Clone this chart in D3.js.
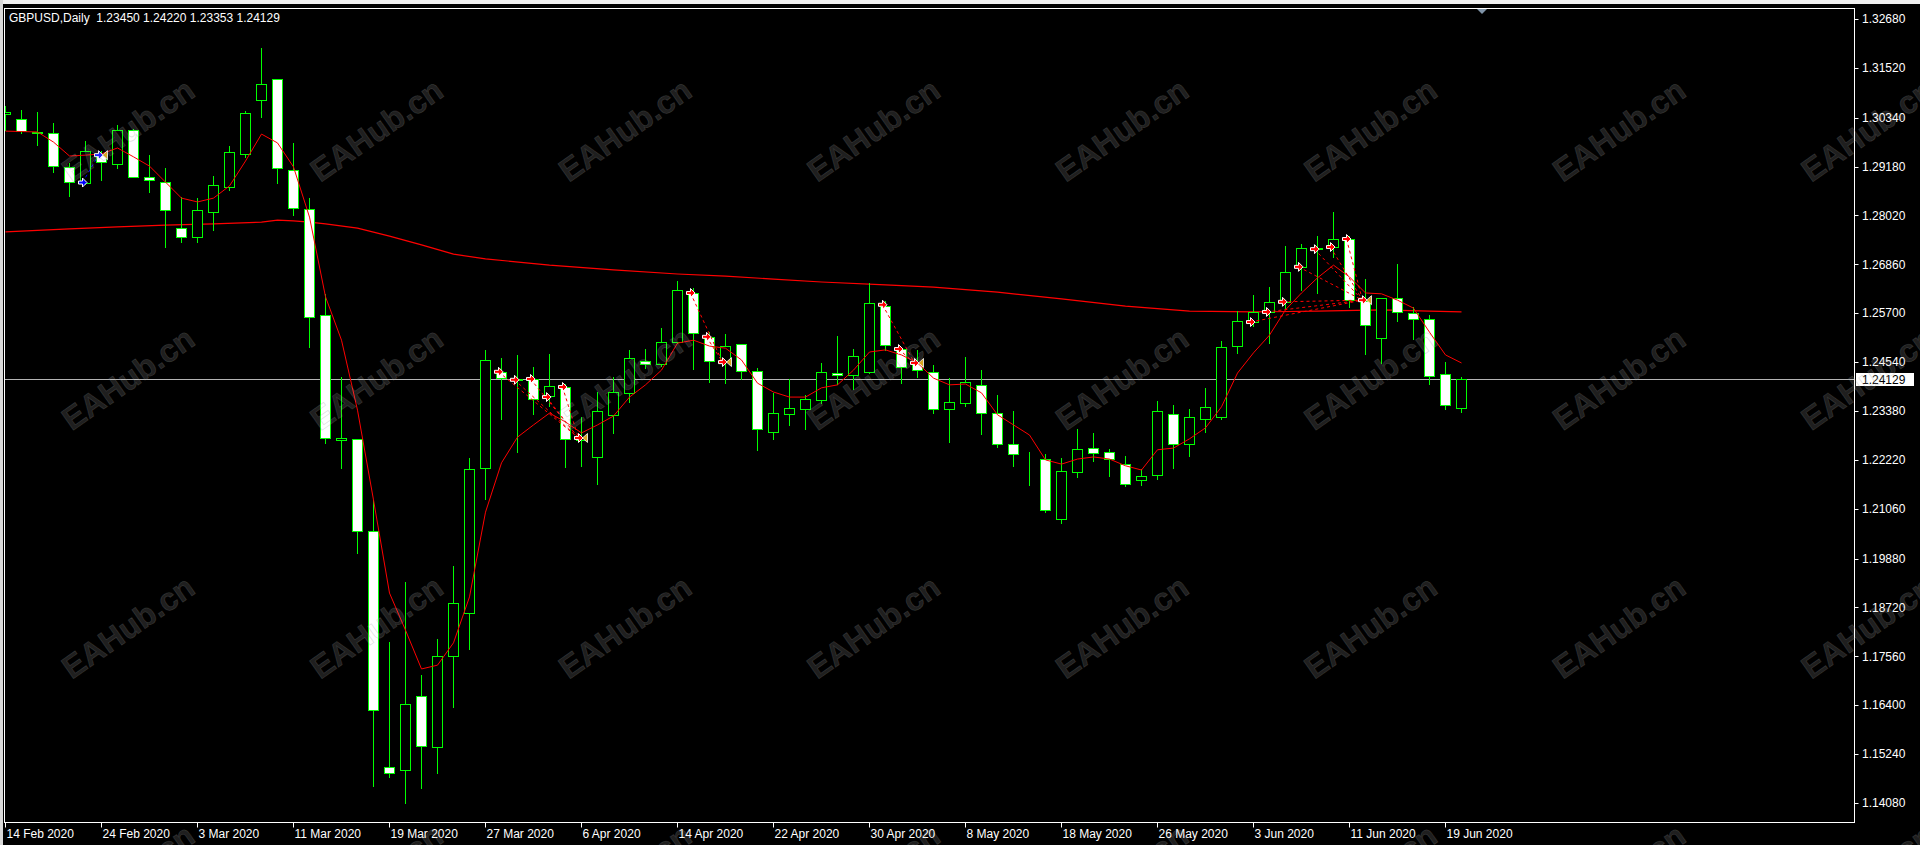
<!DOCTYPE html>
<html>
<head>
<meta charset="utf-8">
<script src="https://cdnjs.cloudflare.com/ajax/libs/d3/7.8.5/d3.min.js"></script>
<style>
  html, body { margin: 0; padding: 0; background: #000; overflow: hidden; }
  svg { display: block; font-family: "Liberation Sans", Arial, sans-serif; }
</style>
</head>
<body>
<svg id="chart" width="1920" height="845"></svg>
<script>
// GBPUSD daily bars, 14 Feb 2020 .. 22 Jun 2020
const opens = [1.3043,1.3031,1.3000,1.2998,1.2917,1.2879,1.2945,1.2924,1.3005,1.2893,
  1.2881,1.2772,1.2751,1.2810,1.2869,1.2948,1.3076,1.3126,1.2910,1.2817,
  1.2566,1.2269,1.2272,1.2053,1.1493,1.1486,1.1662,1.1541,1.1757,1.1859,
  1.2203,1.2431,1.2413,1.2414,1.2374,1.2395,1.2270,1.2229,1.2329,1.2381,
  1.2457,1.2450,1.2502,1.2618,1.2514,1.2457,1.2497,1.2433,1.2288,1.2331,
  1.2343,1.2364,1.2428,1.2423,1.2431,1.2587,1.2485,1.2452,1.2431,1.2343,
  1.2357,1.2400,1.2333,1.2260,1.2230,1.2224,1.2082,1.2193,1.2250,1.2241,
  1.2212,1.2174,1.2186,1.2331,1.2260,1.2319,1.2324,1.2492,1.2549,1.2573,
  1.2597,1.2680,1.2722,1.2727,1.2746,1.2599,1.2511,1.2606,1.2570,1.2556,
  1.2426,1.23450];
const highs = [1.3064,1.3054,1.3050,1.3024,1.2929,1.2981,1.2957,1.3019,1.3009,1.2948,
  1.2917,1.2848,1.2846,1.2898,1.2969,1.3052,1.3202,1.3128,1.2976,1.2846,
  1.2618,1.2421,1.2274,1.2129,1.1792,1.1935,1.1714,1.1799,1.1973,1.2229,
  1.2485,1.2466,1.2473,1.2445,1.2476,1.2404,1.2326,1.2385,1.2421,1.2485,
  1.2487,1.2537,1.2649,1.2632,1.2528,1.2523,1.2499,1.2442,1.2383,1.2416,
  1.2378,1.2454,1.2518,1.2487,1.2644,1.2601,1.2487,1.2485,1.2450,1.2419,
  1.2468,1.2438,1.2378,1.2340,1.2243,1.2238,1.2229,1.2298,1.2288,1.2250,
  1.2234,1.2203,1.2364,1.2355,1.2345,1.2395,1.2506,1.2578,1.2616,1.2635,
  1.2732,1.2737,1.2756,1.2812,1.2756,1.2654,1.2606,1.2689,1.2587,1.2568,
  1.2457,1.24220];
const lows = [1.3005,1.2998,1.2969,1.2905,1.2848,1.2877,1.2886,1.2914,1.2893,1.2858,
  1.2727,1.2739,1.2739,1.2767,1.2862,1.2941,1.3036,1.2879,1.2803,1.2490,
  1.2262,1.2203,1.2001,1.1448,1.1470,1.1408,1.1444,1.1479,1.1636,1.1773,
  1.2129,1.2319,1.2241,1.2331,1.2350,1.2205,1.2208,1.2165,1.2286,1.2359,
  1.2440,1.2445,1.2499,1.2438,1.2407,1.2404,1.2414,1.2245,1.2272,1.2305,
  1.2295,1.2357,1.2402,1.2390,1.2428,1.2483,1.2404,1.2419,1.2333,1.2264,
  1.2350,1.2283,1.2253,1.2208,1.2162,1.2098,1.2072,1.2181,1.2219,1.2184,
  1.2160,1.2162,1.2177,1.2203,1.2231,1.2288,1.2320,1.2476,1.2540,1.2499,
  1.2582,1.2625,1.2618,1.2703,1.2585,1.2473,1.2452,1.2552,1.2509,1.2402,
  1.2343,1.23353];
const closes = [1.3047,1.3002,1.2997,1.2919,1.2881,1.2955,1.2929,1.3005,1.2893,1.2886,
  1.2815,1.2751,1.2815,1.2874,1.2952,1.3045,1.3114,1.2914,1.2820,1.2561,
  1.2274,1.2274,1.2053,1.1629,1.1479,1.1643,1.1543,1.1757,1.1882,1.2200,
  1.2459,1.2416,1.2412,1.2366,1.2397,1.2272,1.2274,1.2338,1.2383,1.2464,
  1.2450,1.2502,1.2625,1.2523,1.2457,1.2492,1.2433,1.2295,1.2333,1.2345,
  1.2366,1.2431,1.2423,1.2468,1.2594,1.2495,1.2442,1.2435,1.2343,1.2359,
  1.2407,1.2333,1.2260,1.2236,1.2230,1.2103,1.2196,1.2248,1.2238,1.2224,
  1.2165,1.2184,1.2338,1.2260,1.2324,1.2348,1.2490,1.2552,1.2573,1.2597,
  1.2668,1.2725,1.2725,1.2746,1.2601,1.2542,1.2606,1.2573,1.2556,1.2421,
  1.2352,1.24129];

// fast moving average, one value per bar
const fastMA = [1.3002,1.3001,1.3000,1.2976,1.2943,1.2945,1.2948,1.2962,1.2941,1.2919,
  1.2881,1.2843,1.2834,1.2843,1.2872,1.2931,1.2995,1.2974,1.2917,1.2798,
  1.2609,1.2506,1.2340,1.2127,1.1906,1.1818,1.1726,1.1735,1.1788,1.1897,
  1.2098,1.2215,1.2276,1.2305,1.2333,1.2312,1.2286,1.2305,1.2326,1.2371,
  1.2400,1.2435,1.2499,1.2506,1.2492,1.2487,1.2459,1.2404,1.2383,1.2371,
  1.2371,1.2393,1.2400,1.2435,1.2478,1.2483,1.2471,1.2452,1.2416,1.2400,
  1.2402,1.2381,1.2329,1.2305,1.2281,1.2222,1.2212,1.2224,1.2229,1.2224,
  1.2208,1.2198,1.2246,1.2250,1.2272,1.2298,1.2348,1.2428,1.2476,1.2518,
  1.2578,1.2618,1.2654,1.2684,1.2656,1.2618,1.2616,1.2601,1.2582,1.2525,
  1.2471,1.2452];

// slow moving average, read at some bars
const slowBars = [0,4,7,10,13,16,17,18,19,20,22,24,26,28,30,34,38,42,45,48,51,55,58,62,66,70,74,78,82,86,89,91];
const slowMA = [1.2763,1.2770,1.2775,1.2779,1.2782,1.2786,1.2791,1.2789,1.2786,1.2782,1.2772,1.2753,1.2732,1.2710,1.2699,1.2684,
  1.2673,1.2663,1.2658,1.2651,1.2644,1.2637,1.2632,1.2620,1.2604,1.2587,1.2575,1.2573,1.2575,1.2578,1.2575,1.2573];

// trade history arrows
const tradeOpenBar   = [5, 31,32,33,34,35, 43,44, 55,56, 78,79,80,81,82,83,84];
const tradeOpenPrice = [1.2880, 1.2431,1.2412,1.2414,1.2371,1.2395, 1.2618,1.2514, 1.2590,1.2485,
  1.2549,1.2573,1.2597,1.2680,1.2722,1.2727,1.2746];
const tradeCloseBar   = [6, 36,36,36,36,36, 45,45, 57,57, 85,85,85,85,85,85,85];
const tradeClosePrice = [1.2945, 1.2274,1.2274,1.2274,1.2274,1.2274, 1.2454,1.2454, 1.2452,1.2452,
  1.2601,1.2601,1.2601,1.2601,1.2601,1.2601,1.2601];
const tradeSide = ["buy","sell","sell","sell","sell","sell","sell","sell","sell","sell",
  "sell","sell","sell","sell","sell","sell","sell"];

const yTicks = [1.3268,1.3152,1.3034,1.2918,1.2802,1.2686,1.2570,1.2454,1.2338,
  1.2222,1.2106,1.1988,1.1872,1.1756,1.1640,1.1524,1.1408];
const xLabels = ["14 Feb 2020","24 Feb 2020","3 Mar 2020","11 Mar 2020","19 Mar 2020","27 Mar 2020",
  "6 Apr 2020","14 Apr 2020","22 Apr 2020","30 Apr 2020","8 May 2020","18 May 2020",
  "26 May 2020","3 Jun 2020","11 Jun 2020","19 Jun 2020"];
const labelStep = 6;
const currentPrice = 1.24129;
const title = "GBPUSD,Daily  1.23450 1.24220 1.23353 1.24129";

// layout
const W = 1920, H = 845;
const plot = { left: 4.5, top: 8.5, right: 1854.5, bottom: 822.5 };

const svg = d3.select("#chart");

const x = d3.scaleLinear().domain([0, opens.length - 1]).range([5.5, 5.5 + 16 * (opens.length - 1)]);
const y = d3.scaleLinear().domain([1.1408, 1.3268]).range([803, 19]);
const py = v => Math.round(y(v)) + 0.5;

// window chrome
svg.append("rect").attr("width", W).attr("height", H).attr("fill", "#000");
svg.append("rect").attr("x", 0).attr("y", 0).attr("width", W).attr("height", 4).attr("fill", "#f0f0f0");
svg.append("rect").attr("x", 0).attr("y", 0).attr("width", 3).attr("height", H).attr("fill", "#d8d8d8");

svg.append("defs").append("clipPath").attr("id", "plotClip")
  .append("rect")
  .attr("x", plot.left + 0.5).attr("y", plot.top + 0.5)
  .attr("width", plot.right - plot.left - 1).attr("height", plot.bottom - plot.top - 1);

const g = svg.append("g").attr("clip-path", "url(#plotClip)");

// slow MA
g.append("path")
  .datum(slowBars.map((b, i) => [b, slowMA[i]]))
  .attr("fill", "none").attr("stroke", "#ff0000").attr("stroke-width", 1.2)
  .attr("d", d3.line().x(d => x(d[0])).y(d => y(d[1])));

// current price line
g.append("line")
  .attr("x1", plot.left).attr("x2", plot.right)
  .attr("y1", py(currentPrice)).attr("y2", py(currentPrice))
  .attr("stroke", "#b4b4b4").attr("stroke-width", 1);

// candles
const bars = d3.range(opens.length);
const candle = g.selectAll("g.candle").data(bars).enter().append("g").attr("class", "candle");

candle.append("line")
  .attr("x1", i => x(i)).attr("x2", i => x(i))
  .attr("y1", i => py(highs[i])).attr("y2", i => py(lows[i]))
  .attr("stroke", "#00ff00").attr("stroke-width", 1)
  .attr("shape-rendering", "crispEdges");

candle.append("rect")
  .attr("x", i => x(i) - 5)
  .attr("y", i => py(Math.max(opens[i], closes[i])))
  .attr("width", 10)
  .attr("height", i => Math.max(0, py(Math.min(opens[i], closes[i])) - py(Math.max(opens[i], closes[i]))))
  .attr("fill", i => closes[i] >= opens[i] ? "#000" : "#fff")
  .attr("stroke", "#00ff00").attr("stroke-width", 1)
  .attr("shape-rendering", "crispEdges");

// fast MA
g.append("path")
  .datum(fastMA)
  .attr("fill", "none").attr("stroke", "#ff0000").attr("stroke-width", 1)
  .attr("d", d3.line().x((d, i) => x(i)).y(d => y(d)));

// trade lines and arrows
const trades = d3.range(tradeOpenBar.length);
const tradeColor = i => tradeSide[i] === "buy" ? "#0000ff" : "#ff0000";

g.selectAll("line.trade").data(trades).enter().append("line")
  .attr("class", "trade")
  .attr("x1", i => x(tradeOpenBar[i]) - 3).attr("y1", i => y(tradeOpenPrice[i]))
  .attr("x2", i => x(tradeCloseBar[i]) - 3).attr("y2", i => y(tradeClosePrice[i]))
  .attr("stroke", tradeColor).attr("stroke-width", 1).attr("stroke-dasharray", "3,3");

const arrowPath = "M-4,-1.5L0,-1.5L0,-4.5L4.5,0L0,4.5L0,1.5L-4,1.5Z";
g.selectAll("path.openArrow").data(trades).enter().append("path")
  .attr("class", "openArrow")
  .attr("d", arrowPath)
  .attr("transform", i => `translate(${x(tradeOpenBar[i]) - 3},${y(tradeOpenPrice[i])})`)
  .attr("fill", tradeColor).attr("stroke", "#fff").attr("stroke-width", 1);

// close markers (one per distinct close)
const closeKeys = Array.from(new Set(trades.map(i => tradeCloseBar[i] + "|" + tradeClosePrice[i] + "|" + tradeSide[i])));
const closes2 = closeKeys.map(k => k.split("|"));
g.selectAll("path.closeArrow").data(closes2).enter().append("path")
  .attr("d", arrowPath)
  .attr("transform", d => `translate(${x(+d[0]) - 3},${y(+d[1])})`)
  .attr("fill", d => d[2] === "buy" ? "#0000ff" : "#ff0000").attr("stroke", "#fff").attr("stroke-width", 1);
g.selectAll("path.closeTri").data(closes2).enter().append("path")
  .attr("d", "M5,-4.5L0,0L5,4.5Z")
  .attr("transform", d => `translate(${x(+d[0]) + 1},${y(+d[1])})`)
  .attr("fill", "#daa520").attr("stroke", "#fff").attr("stroke-width", 0.8);

// frame
svg.append("rect")
  .attr("x", plot.left).attr("y", plot.top)
  .attr("width", plot.right - plot.left).attr("height", plot.bottom - plot.top)
  .attr("fill", "none").attr("stroke", "#fff").attr("stroke-width", 1);

// chart shift marker
svg.append("path").attr("d", "M1477,9L1487,9L1482,14Z").attr("fill", "#8094a8");

// title
svg.append("text")
  .attr("x", 9).attr("y", 22)
  .attr("fill", "#fff").attr("font-size", 12)
  .attr("xml:space", "preserve")
  .style("white-space", "pre")
  .text(title);

// price axis
const yAxis = svg.append("g");
yAxis.selectAll("line").data(yTicks).enter().append("line")
  .attr("x1", plot.right).attr("x2", plot.right + 4)
  .attr("y1", d => py(d)).attr("y2", d => py(d))
  .attr("stroke", "#fff");
yAxis.selectAll("text").data(yTicks).enter().append("text")
  .attr("x", 1862).attr("y", d => y(d)).attr("dy", "0.35em")
  .attr("fill", "#fff").attr("font-size", 12)
  .text(d => d.toFixed(5));

// current price tag
svg.append("rect")
  .attr("x", 1856).attr("y", Math.round(y(currentPrice)) - 6)
  .attr("width", 58).attr("height", 13).attr("fill", "#fff");
svg.append("text")
  .attr("x", 1862).attr("y", y(currentPrice)).attr("dy", "0.35em")
  .attr("fill", "#000").attr("font-size", 12)
  .text(currentPrice.toFixed(5));

// date axis
const xAxis = svg.append("g");
xAxis.selectAll("line").data(xLabels).enter().append("line")
  .attr("x1", (d, i) => x(i * labelStep)).attr("x2", (d, i) => x(i * labelStep))
  .attr("y1", plot.bottom).attr("y2", plot.bottom + 5)
  .attr("stroke", "#fff");
xAxis.selectAll("text").data(xLabels).enter().append("text")
  .attr("x", (d, i) => x(i * labelStep) + 1).attr("y", 838)
  .attr("fill", "#fff").attr("font-size", 12)
  .text(d => d);

// watermark grid
const wmX = d3.range(8).map(i => 128 + 248.5 * i);
const wmY = d3.range(4).map(j => 130 + 248.5 * j);
const wm = svg.append("g").attr("pointer-events", "none");
wmY.forEach(cy => {
  wmX.forEach(cx => {
    wm.append("text")
      .attr("transform", `translate(${cx},${cy}) rotate(-35)`)
      .attr("text-anchor", "middle").attr("dy", "0.35em")
      .attr("font-size", 32).attr("font-weight", "bold")
      .attr("fill", "#fff").attr("fill-opacity", 0.14)
      .attr("stroke", "#808080").attr("stroke-opacity", 0.25).attr("stroke-width", 0.8)
      .text("EAHub.cn");
  });
});
</script>
</body>
</html>
